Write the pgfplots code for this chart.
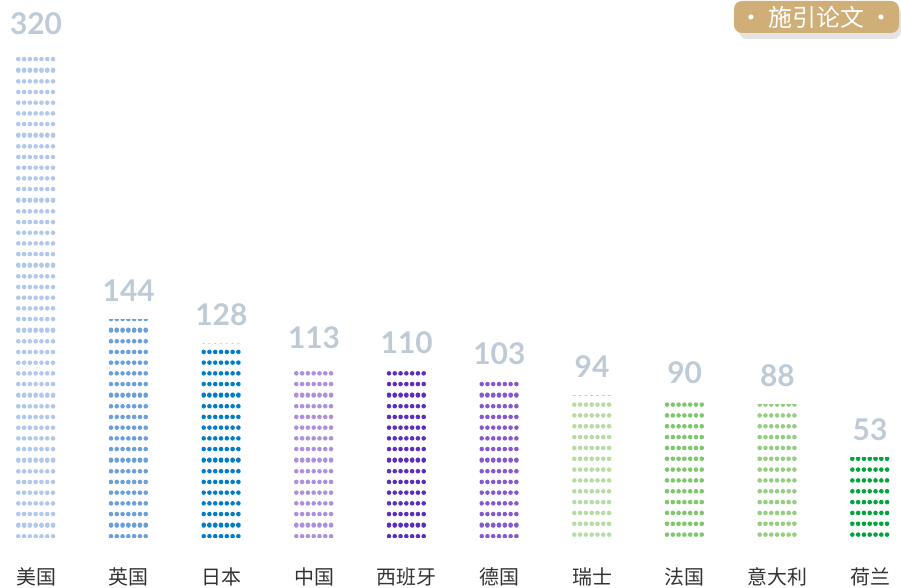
\documentclass[border=0pt]{standalone}
\usepackage{pgfplots}
\pgfplotsset{compat=1.18}
\usetikzlibrary{patterns}
\usepackage{fontspec}
\setmainfont{Lato}
\newfontfamily\cjk{Noto Sans CJK SC}
\newfontfamily\numfont{Lato}
\definecolor{c1}{HTML}{B0C8EC}
\definecolor{c2}{HTML}{6A9FD9}
\definecolor{c3}{HTML}{007DC8}
\definecolor{c4}{HTML}{AD90DD}
\definecolor{c5}{HTML}{5A2EC0}
\definecolor{c6}{HTML}{8658D0}
\definecolor{c7}{HTML}{B5DCA5}
\definecolor{c8}{HTML}{7FC66E}
\definecolor{c9}{HTML}{94CE80}
\definecolor{c10}{HTML}{00A63C}
\definecolor{lab}{HTML}{BECBD6}
\definecolor{labtext}{HTML}{333333}
\definecolor{badge}{HTML}{CFAE78}
\definecolor{shadow}{HTML}{E4E4E4}
% one row of dots for three neighbouring bars (7 dots per bar)
\newcommand\dotc[2]{\pgfpathcircle{\pgfqpoint{#1bp}{#2bp}}{2.3bp}}
\newcommand\dotrow[1]{%
  \dotc{18.3}{#1}\dotc{24.092}{#1}\dotc{29.884}{#1}\dotc{35.676}{#1}\dotc{41.468}{#1}\dotc{47.259}{#1}\dotc{53.051}{#1}%
  \dotc{110.972}{#1}\dotc{116.764}{#1}\dotc{122.556}{#1}\dotc{128.348}{#1}\dotc{134.140}{#1}\dotc{139.931}{#1}\dotc{145.723}{#1}%
  \dotc{203.643}{#1}\dotc{209.435}{#1}\dotc{215.227}{#1}\dotc{221.019}{#1}\dotc{226.811}{#1}\dotc{232.602}{#1}\dotc{238.394}{#1}%
}
% tile: three bar spacings wide, six dot rows high, anchored to the page origin
\pgfdeclarepatternformonly{dotgrid}{\pgfqpoint{0bp}{0bp}}{\pgfqpoint{278.015bp}{65bp}}{\pgfqpoint{278.015bp}{65bp}}{%
  \dotrow{-0.7667}\dotrow{10.0667}\dotrow{20.9}\dotrow{31.7333}\dotrow{42.5667}\dotrow{53.4}\dotrow{64.2333}%
  \pgfusepath{fill}%
}
\tikzset{
  dotbar/.style={draw=none, pattern=dotgrid, pattern color=#1}
}
\begin{document}
\begin{tikzpicture}
\useasboundingbox (0,0) rectangle (901bp,588bp);
\begin{axis}[
  at={(0,50bp)}, anchor=south west,
  scale only axis, width=901bp, height=538bp,
  xmin=-0.3885, xmax=9.334, ymin=0, ymax=353.95,
  ybar, bar width=40bp, bar shift=0pt,
  axis line style={draw=none}, major tick length=0pt,
  ytick=\empty,
  xtick={0,...,9},
  xticklabels={美国,英国,日本,中国,西班牙,德国,瑞士,法国,意大利,荷兰},
  xticklabel style={font=\cjk\fontsize{20}{24}\selectfont, text=labtext, anchor=center, yshift=-39bp},
  nodes near coords,
  nodes near coords style={font=\numfont\bfseries\fontsize{30}{36}\selectfont, text=lab, inner sep=0pt, yshift=17bp},
  /pgf/number format/assume math mode=true,
  clip=false,
]
\addplot[dotbar=c1] coordinates {(0,320)};
\addplot[dotbar=c2] coordinates {(1,144)};
\addplot[dotbar=c3] coordinates {(2,128)};
\addplot[dotbar=c4] coordinates {(3,113)};
\addplot[dotbar=c5] coordinates {(4,110)};
\addplot[dotbar=c6] coordinates {(5,103)};
\addplot[dotbar=c7] coordinates {(6,94)};
\addplot[dotbar=c8] coordinates {(7,90)};
\addplot[dotbar=c9] coordinates {(8,88)};
\addplot[dotbar=c10] coordinates {(9,53)};
\end{axis}
\fill[shadow, rounded corners=8bp] (739bp,549bp) rectangle (901bp,582bp);
\fill[badge, rounded corners=8bp] (734bp,555bp) rectangle (899bp,587bp);
\node[text=white, font=\cjk\fontsize{24}{28}\selectfont, inner sep=0pt] at (816.5bp,571bp) {· 施引论文 ·};
\end{tikzpicture}
\end{document}
